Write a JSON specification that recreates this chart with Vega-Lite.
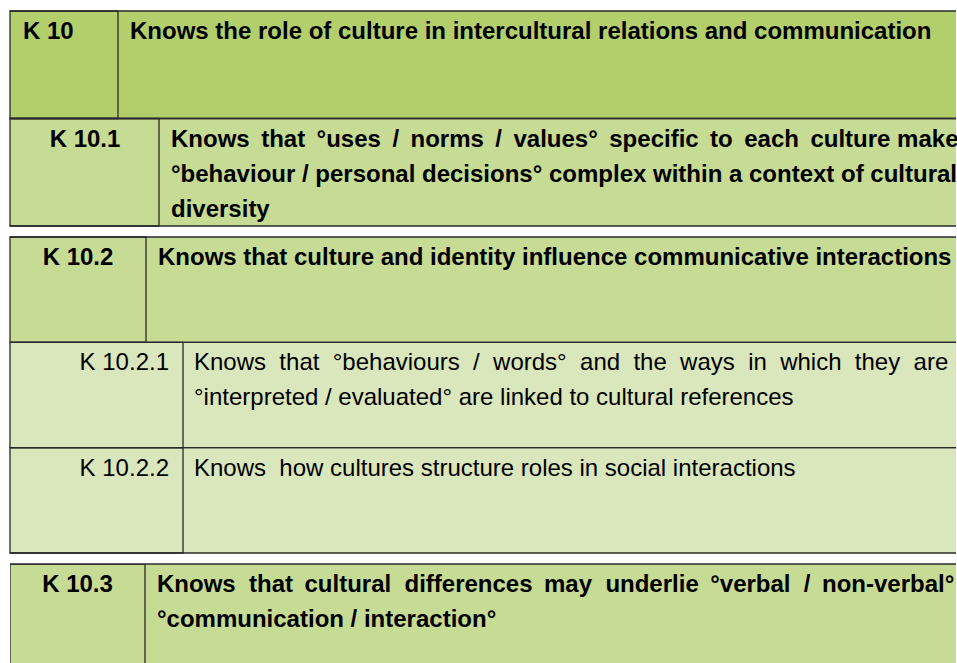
{
  "$schema": "https://vega.github.io/schema/vega-lite/v6.json",
  "padding": {"left": 9, "top": 10, "right": 0, "bottom": 0},
  "autosize": {"type": "pad"},
  "background": "white",
  "spacing": 11,
  "bounds": "flush",
  "config": {
    "view": {"stroke": null},
    "scale": {"bandPaddingInner": 0, "bandPaddingOuter": 0, "rectBandPaddingInner": 0}
  },
  "data": {
    "values": [
      {"table": 1, "code": "K 10", "level": 1, "split": 108, "text": "Knows the role of culture in intercultural relations and communication"},
      {"table": 1, "code": "K 10.1", "level": 2, "split": 149, "text": "Knows \u2009that \u2009°uses \u2009/ \u2009norms \u2009/ \u2009values° \u2009specific \u2009to \u2009each \u2009culture make\n°behaviour / personal decisions° complex within a context of cultural\ndiversity"},
      {"table": 2, "code": "K 10.2", "level": 2, "split": 136, "text": "Knows that culture and identity influence communicative interactions"},
      {"table": 2, "code": "K 10.2.1", "level": 3, "split": 173, "text": "Knows \u00a0that \u00a0°behaviours \u00a0/ \u00a0words° \u00a0and \u00a0the \u00a0ways \u00a0in \u00a0which \u00a0they \u00a0are\n°interpreted / evaluated° are linked to cultural references"},
      {"table": 2, "code": "K 10.2.2", "level": 3, "split": 173, "text": "Knows \u00a0how cultures structure roles in social interactions"},
      {"table": 3, "code": "K 10.3", "level": 2, "split": 135, "text": "Knows \u00a0that \u2009cultural \u00a0differences \u2009may \u00a0underlie \u2009°verbal \u00a0/ \u2009non-verbal°\n°communication / interaction°"}
    ]
  },
  "vconcat": [
    {
      "width": 946,
      "height": 215,
      "transform": [{"filter": "datum.table == 1"}],
      "layer": [
        {
          "mark": {"type": "rect"},
          "encoding": {
            "y": {"field": "code", "type": "nominal", "axis": null, "scale": {"type": "band", "paddingInner": 0, "paddingOuter": 0}},
            "fill": {"field": "level", "type": "nominal", "scale": {"domain": [1, 2, 3], "range": ["#b3cf6b", "#c6db93", "#dae6bb"]}, "legend": null}
          }
        },
        {
          "mark": {"type": "rule", "stroke": "#2a2a2a", "strokeWidth": 1.3},
          "encoding": {
            "y": {"field": "code", "type": "nominal", "axis": null, "bandPosition": 0}
          }
        },
        {
          "mark": {"type": "rule", "stroke": "#2a2a2a", "strokeWidth": 1.3},
          "encoding": {
            "y": {"field": "code", "type": "nominal", "axis": null, "bandPosition": 1}
          }
        },
        {
          "mark": {"type": "rect", "fill": "transparent", "stroke": "#2a2a2a", "strokeWidth": 1.3},
          "encoding": {
            "x": {"field": "split", "type": "quantitative", "scale": {"domain": [0, 946], "nice": false, "zero": false}, "axis": null},
            "x2": {"datum": 0},
            "y": {"field": "code", "type": "nominal", "axis": null}
          }
        },
        {
          "transform": [{"filter": "datum.level == 1"}],
          "mark": {"type": "text", "font": "Liberation Sans", "fontSize": 24, "fontWeight": "bold", "color": "black", "align": "left", "baseline": "alphabetic", "dx": 13, "dy": 28},
          "encoding": {
            "x": {"datum": 0, "type": "quantitative"},
            "y": {"field": "code", "type": "nominal", "axis": null, "bandPosition": 0},
            "text": {"field": "code"}
          }
        },
        {
          "transform": [{"filter": "datum.level == 2"}],
          "mark": {"type": "text", "font": "Liberation Sans", "fontSize": 24, "fontWeight": "bold", "color": "black", "align": "center", "baseline": "alphabetic", "dx": -74, "dy": 28},
          "encoding": {
            "x": {"field": "split", "type": "quantitative"},
            "y": {"field": "code", "type": "nominal", "axis": null, "bandPosition": 0},
            "text": {"field": "code"}
          }
        },
        {
          "mark": {"type": "text", "font": "Liberation Sans", "fontSize": 24, "fontWeight": "bold", "color": "black", "align": "left", "baseline": "alphabetic", "dx": 12, "dy": 28, "lineBreak": "\n", "lineHeight": 35},
          "encoding": {
            "x": {"field": "split", "type": "quantitative"},
            "y": {"field": "code", "type": "nominal", "axis": null, "bandPosition": 0},
            "text": {"field": "text"}
          }
        }
      ]
    },
    {
      "width": 946,
      "height": 316,
      "transform": [{"filter": "datum.table == 2"}],
      "layer": [
        {
          "mark": {"type": "rect"},
          "encoding": {
            "y": {"field": "code", "type": "nominal", "axis": null, "scale": {"type": "band", "paddingInner": 0, "paddingOuter": 0}},
            "fill": {"field": "level", "type": "nominal", "scale": {"domain": [1, 2, 3], "range": ["#b3cf6b", "#c6db93", "#dae6bb"]}, "legend": null}
          }
        },
        {
          "mark": {"type": "rule", "stroke": "#2a2a2a", "strokeWidth": 1.3},
          "encoding": {
            "y": {"field": "code", "type": "nominal", "axis": null, "bandPosition": 0}
          }
        },
        {
          "mark": {"type": "rule", "stroke": "#2a2a2a", "strokeWidth": 1.3},
          "encoding": {
            "y": {"field": "code", "type": "nominal", "axis": null, "bandPosition": 1}
          }
        },
        {
          "mark": {"type": "rect", "fill": "transparent", "stroke": "#2a2a2a", "strokeWidth": 1.3},
          "encoding": {
            "x": {"field": "split", "type": "quantitative", "scale": {"domain": [0, 946], "nice": false, "zero": false}, "axis": null},
            "x2": {"datum": 0},
            "y": {"field": "code", "type": "nominal", "axis": null}
          }
        },
        {
          "transform": [{"filter": "datum.level == 2"}],
          "mark": {"type": "text", "font": "Liberation Sans", "fontSize": 24, "fontWeight": "bold", "color": "black", "align": "center", "baseline": "alphabetic", "dx": -68, "dy": 28},
          "encoding": {
            "x": {"field": "split", "type": "quantitative"},
            "y": {"field": "code", "type": "nominal", "axis": null, "bandPosition": 0},
            "text": {"field": "code"}
          }
        },
        {
          "transform": [{"filter": "datum.level == 3"}],
          "mark": {"type": "text", "font": "Liberation Sans", "fontSize": 24, "color": "black", "align": "right", "baseline": "alphabetic", "dx": -14, "dy": 28},
          "encoding": {
            "x": {"field": "split", "type": "quantitative"},
            "y": {"field": "code", "type": "nominal", "axis": null, "bandPosition": 0},
            "text": {"field": "code"}
          }
        },
        {
          "transform": [{"filter": "datum.level == 2"}],
          "mark": {"type": "text", "font": "Liberation Sans", "fontSize": 24, "fontWeight": "bold", "color": "black", "align": "left", "baseline": "alphabetic", "dx": 12, "dy": 28, "lineBreak": "\n", "lineHeight": 35},
          "encoding": {
            "x": {"field": "split", "type": "quantitative"},
            "y": {"field": "code", "type": "nominal", "axis": null, "bandPosition": 0},
            "text": {"field": "text"}
          }
        },
        {
          "transform": [{"filter": "datum.level == 3"}],
          "mark": {"type": "text", "font": "Liberation Sans", "fontSize": 24, "color": "black", "align": "left", "baseline": "alphabetic", "dx": 11, "dy": 28, "lineBreak": "\n", "lineHeight": 35},
          "encoding": {
            "x": {"field": "split", "type": "quantitative"},
            "y": {"field": "code", "type": "nominal", "axis": null, "bandPosition": 0},
            "text": {"field": "text"}
          }
        }
      ]
    },
    {
      "width": 946,
      "height": 99,
      "transform": [{"filter": "datum.table == 3"}],
      "layer": [
        {
          "mark": {"type": "rect", "clip": true},
          "encoding": {
            "y": {"field": "code", "type": "nominal", "axis": null, "scale": {"type": "band", "paddingInner": 0, "paddingOuter": 0, "range": [0, 130]}},
            "fill": {"field": "level", "type": "nominal", "scale": {"domain": [1, 2, 3], "range": ["#b3cf6b", "#c6db93", "#dae6bb"]}, "legend": null}
          }
        },
        {
          "mark": {"type": "rule", "stroke": "#2a2a2a", "strokeWidth": 1.3},
          "encoding": {
            "y": {"field": "code", "type": "nominal", "axis": null, "bandPosition": 0}
          }
        },
        {
          "mark": {"type": "rect", "clip": true, "fill": "transparent", "stroke": "#2a2a2a", "strokeWidth": 1.3},
          "encoding": {
            "x": {"field": "split", "type": "quantitative", "scale": {"domain": [0, 946], "nice": false, "zero": false}, "axis": null},
            "x2": {"datum": 0},
            "y": {"field": "code", "type": "nominal", "axis": null}
          }
        },
        {
          "mark": {"type": "text", "font": "Liberation Sans", "fontSize": 24, "fontWeight": "bold", "color": "black", "align": "center", "baseline": "alphabetic", "dx": -67.5, "dy": 28},
          "encoding": {
            "x": {"field": "split", "type": "quantitative"},
            "y": {"field": "code", "type": "nominal", "axis": null, "bandPosition": 0},
            "text": {"field": "code"}
          }
        },
        {
          "mark": {"type": "text", "font": "Liberation Sans", "fontSize": 24, "fontWeight": "bold", "color": "black", "align": "left", "baseline": "alphabetic", "dx": 12, "dy": 28, "lineBreak": "\n", "lineHeight": 35},
          "encoding": {
            "x": {"field": "split", "type": "quantitative"},
            "y": {"field": "code", "type": "nominal", "axis": null, "bandPosition": 0},
            "text": {"field": "text"}
          }
        }
      ]
    }
  ]
}
